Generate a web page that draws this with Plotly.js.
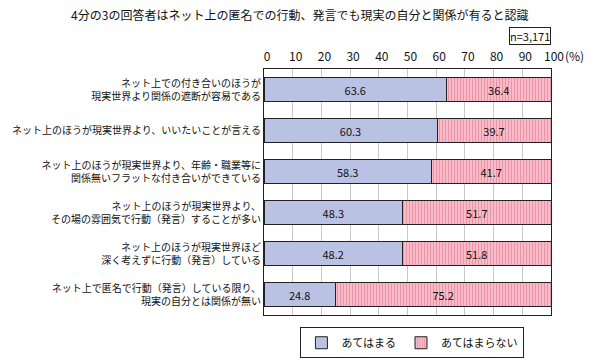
<!DOCTYPE html>
<html>
<head>
<meta charset="utf-8">
<script src="https://cdn.plot.ly/plotly-3.0.1.min.js"></script>
<style>
html,body{margin:0;padding:0;background:#fff;}
#chart{width:596px;height:364px;}
</style>
</head>
<body>
<div id="chart"></div>
<script>
const categories = [
  "ネット上での付き合いのほうが<br>現実世界より関係の遮断が容易である",
  "ネット上のほうが現実世界より、いいたいことが言える",
  "ネット上のほうが現実世界より、年齢・職業等に<br>関係無いフラットな付き合いができている",
  "ネット上のほうが現実世界より、<br>その場の雰囲気で行動（発言）することが多い",
  "ネット上のほうが現実世界ほど<br>深く考えずに行動（発言）している",
  "ネット上で匿名で行動（発言）している限り、<br>現実の自分とは関係が無い"
];
const applies = [63.6, 60.3, 58.3, 48.3, 48.2, 24.8];
const notApplies = [36.4, 39.7, 41.7, 51.7, 51.8, 75.2];
const seriesNames = ["あてはまる", "あてはまらない"];
const tickValues = [0, 10, 20, 30, 40, 50, 60, 70, 80, 90, 100];
const tickLabels = ["0", "10", "20", "30", "40", "50", "60", "70", "80", "90", "100"];
const titleText = "4分の3の回答者はネット上の匿名での行動、発言でも現実の自分と関係が有ると認識";
const sampleText = "n=3,171";

const FONT = "'Noto Sans CJK JP', 'Noto Sans', sans-serif";

const traces = [
  {
    type: "bar", orientation: "h", name: seriesNames[0],
    y: categories, x: applies,
    width: 0.585,
    marker: {color: "#BAC2E4", line: {color: "#222", width: 1}},
    text: applies.map(v => v.toFixed(1)),
    textposition: "inside", insidetextanchor: "middle",
    textfont: {color: "#111", size: 11, family: FONT},
    constraintext: "none", hoverinfo: "x"
  },
  {
    type: "bar", orientation: "h", name: seriesNames[1],
    y: categories, x: notApplies,
    width: 0.585,
    marker: {
      color: "#F6B6C3", line: {color: "#222", width: 1},
      pattern: {shape: "|", fgcolor: "#EC93A8", bgcolor: "#F7BCC8", size: 3, solidity: 0.35, fillmode: "replace"}
    },
    text: notApplies.map(v => v.toFixed(1)),
    textposition: "inside", insidetextanchor: "middle",
    textfont: {color: "#111", size: 11, family: FONT},
    constraintext: "none", hoverinfo: "x"
  }
];

const layout = {
  width: 596, height: 364,
  margin: {l: 264, r: 45, t: 69, b: 49, autoexpand: false},
  paper_bgcolor: "#fff", plot_bgcolor: "#fff",
  font: {family: FONT, size: 10.5, color: "#111"},
  barmode: "stack",
  showlegend: true,
  title: {
    text: titleText,
    font: {family: FONT, size: 12, color: "#111"},
    x: 0.503, xanchor: "center", xref: "container",
    y: 0.956, yanchor: "middle", yref: "container"
  },
  xaxis: {
    side: "top", range: [0, 100], tickvals: tickValues, ticktext: tickLabels,
    showgrid: true, gridcolor: "#C8C8C8", gridwidth: 1,
    showline: true, mirror: true, linecolor: "#222", linewidth: 1,
    ticks: "", zeroline: false, fixedrange: true,
    ticklabelshift: 3, ticklabelstandoff: 2,
    tickfont: {family: FONT, size: 12, color: "#111"}
  },
  yaxis: {
    type: "category", autorange: "reversed",
    showline: true, mirror: true, linecolor: "#222", linewidth: 1,
    ticks: "", showgrid: false, fixedrange: true,
    ticklabelstandoff: 0,
    tickfont: {family: FONT, size: 10, color: "#111"}
  },
  legend: {
    orientation: "h", x: 0.692, xanchor: "center", xref: "container",
    y: 0.101, yanchor: "top", yref: "container",
    bordercolor: "#222", borderwidth: 1, bgcolor: "#fff",
    font: {family: FONT, size: 11, color: "#111"},
    traceorder: "normal", itemclick: false, itemdoubleclick: false
  },
  annotations: [
    {
      text: sampleText, xref: "paper", yref: "paper",
      x: 1.0, xanchor: "right", y: 1.134, yanchor: "middle",
      showarrow: false, bordercolor: "#222", borderwidth: 1, borderpad: 0,
      bgcolor: "#fff", font: {family: FONT, size: 11, color: "#111"}
    },
    {
      text: "(%)", xref: "paper", yref: "paper",
      x: 1.0, xshift: 12, xanchor: "left", y: 1, yshift: 14, yanchor: "middle",
      showarrow: false, font: {family: FONT, size: 12, color: "#111"}
    }
  ]
};

Plotly.newPlot("chart", traces, layout, {displayModeBar: false, staticPlot: true});
</script>
</body>
</html>
